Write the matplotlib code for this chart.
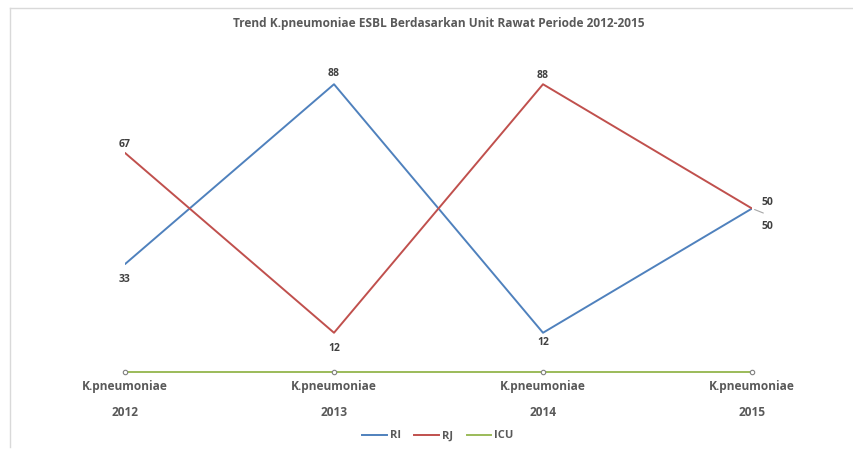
import matplotlib
matplotlib.use("Agg")
import matplotlib.pyplot as plt
from matplotlib.lines import Line2D

categories = ["K.pneumoniae\n\n2012", "K.pneumoniae\n\n2013", "K.pneumoniae\n\n2014", "K.pneumoniae\n\n2015"]
ri = [33, 88, 12, 50]
rj = [67, 12, 88, 50]
icu = [0, 0, 0, 0]
title = "Trend K.pneumoniae ESBL Berdasarkan Unit Rawat Periode 2012-2015"

plt.rcParams['font.family'] = ['Open Sans', 'DejaVu Sans']
W, H = 854, 450
fig = plt.figure(figsize=(W/100, H/100), dpi=100)
ax = fig.add_axes([125/W, 1-372/H, (752-125)/W, (372-45)/H])

x = list(range(len(categories)))
c_ri, c_rj, c_icu = "#4F81BD", "#C0504D", "#9BBB59"
ax.plot(x, ri, color=c_ri, lw=1.4, label="RI", solid_capstyle="round")
ax.plot(x, rj, color=c_rj, lw=1.4, label="RJ", solid_capstyle="round")
ax.plot(x, icu, color=c_icu, lw=1.4, label="ICU", marker="o", ms=3.2,
        mfc="white", mec="#7F7F7F", mew=0.8, clip_on=False)

ax.set_xlim(0, 3)
ax.set_ylim(0, 100)
for s in ax.spines.values():
    s.set_visible(False)
ax.set_yticks([])
ax.set_xticks(x)
ax.set_xticklabels(categories, fontsize=8.6, fontweight="bold", color="#595959",
                   linespacing=0.98)
ax.tick_params(axis="x", length=0, pad=6)

lab_kw = dict(fontsize=7.5, fontweight="bold", color="#404040", ha="center")
ri_off = [(0, -11), (0, 8), (0, -7), (11, -13)]
rj_off = [(0, 6), (0, -11), (0, 6), (11, 4)]
for i, v in enumerate(ri):
    dx, dy = ri_off[i]
    ax.annotate(str(v), (i, v), xytext=(dx, dy), textcoords="offset points",
                va="center", annotation_clip=False, **lab_kw)
for i, v in enumerate(rj):
    dx, dy = rj_off[i]
    ax.annotate(str(v), (i, v), xytext=(dx, dy), textcoords="offset points",
                va="center", annotation_clip=False, **lab_kw)
ax.annotate("", (3, ri[3]), xytext=(10, -4), textcoords="offset points",
            arrowprops=dict(arrowstyle="-", color="#A6A6A6", lw=0.8),
            annotation_clip=False)

ax.set_title(title, fontsize=8.6, fontweight="bold", color="#595959", pad=0,
             y=1 + (45-27)/(372-45))

handles = [Line2D([0], [0], color=c_ri, lw=1.4),
           Line2D([0], [0], color=c_rj, lw=1.4),
           Line2D([0], [0], color=c_icu, lw=1.4)]
leg = fig.legend(handles, ["RI", "RJ", "ICU"], loc="center", bbox_to_anchor=(438/W, 1-436/H),
                 ncol=3, frameon=False, fontsize=8, handlelength=2.2, handletextpad=0.3,
                 columnspacing=1.2)
for t in leg.get_texts():
    t.set_color("#595959")
    t.set_fontweight("bold")

fig.add_artist(Line2D([10/W, 10/W], [1-8/H, 1-447/H], color="#D9D9D9", lw=1, transform=fig.transFigure))
fig.add_artist(Line2D([10/W, 1.0], [1-8/H, 1-8/H], color="#D9D9D9", lw=1, transform=fig.transFigure))

fig.savefig("out.png", dpi=100)
